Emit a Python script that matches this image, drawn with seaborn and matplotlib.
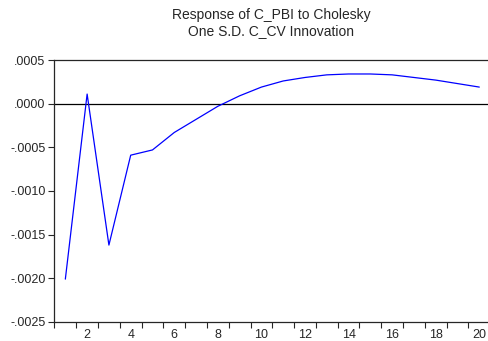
import numpy as np
import pandas as pd
import seaborn as sns
from matplotlib import pyplot as plt

# impulse response
periods = list(range(1, 21))
response = [-0.00201, 0.00011, -0.00162, -0.00059, -0.00053, -0.00033, -0.00018,
            -0.00003, 0.00009, 0.00019, 0.00026, 0.00030, 0.00033, 0.00034,
            0.00034, 0.00033, 0.00030, 0.00027, 0.00023, 0.00019]
ytick_vals = [0.0005, 0.0, -0.0005, -0.0010, -0.0015, -0.0020, -0.0025]
ytick_labels = [".0005", ".0000", "-.0005", "-.0010", "-.0015", "-.0020", "-.0025"]
xtick_labels = [2, 4, 6, 8, 10, 12, 14, 16, 18, 20]

sns.set_style("ticks")
plt.rcParams['font.family'] = ['Liberation Sans', 'DejaVu Sans']

df = pd.DataFrame({"period": periods, "response": response})

fig = plt.figure(figsize=(4.89, 3.41), dpi=100)
ax = fig.add_axes([0.110, 0.056, 0.888, 0.768])

ax.axhline(0, color="black", lw=0.9, zorder=1)
sns.lineplot(data=df, x="period", y="response", color="blue", lw=0.9, ax=ax)

ax.set_xlim(0.47, 20.4)
ax.set_ylim(-0.0025, 0.0005)
ax.set_yticks(ytick_vals)
ax.set_yticklabels(ytick_labels, fontsize=9)
ax.set_xticks(xtick_labels)
ax.set_xticklabels([str(v) for v in xtick_labels], fontsize=9)
ax.tick_params(axis="x", length=0, pad=5)
ax.set_xticks(np.arange(0.5, 20.5, 1.0), minor=True)
ax.tick_params(axis="x", which="minor", length=4, width=0.8, direction="out")
ax.tick_params(axis="y", length=4, width=0.8, pad=2)
ax.set_xlabel("")
ax.set_ylabel("")
for side in ["left", "bottom", "top"]:
    ax.spines[side].set_linewidth(0.9)
ax.spines["top"].set_visible(True)
ax.spines["right"].set_visible(False)

ax.set_title("Response of C_PBI to Cholesky\nOne S.D. C_CV Innovation",
             fontsize=10, pad=18, linespacing=1.15)

fig.savefig("out.png", dpi=100)
